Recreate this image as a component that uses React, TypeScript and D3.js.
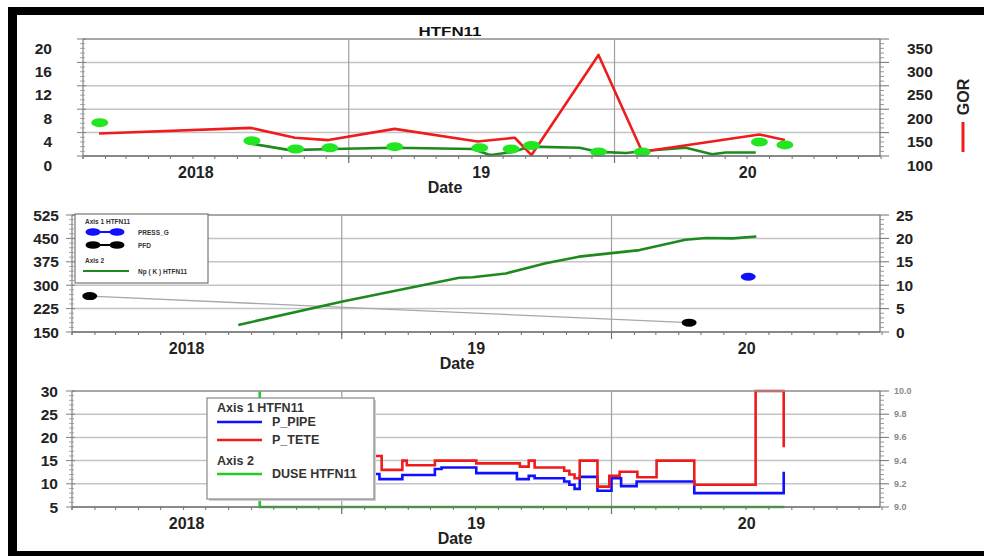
import React from "react";
import * as d3 from "d3";

const parse = d3.timeParse("%Y-%m-%d");
const START = new Date(2018, 0, 1);
const END = new Date(2021, 0, 1);

// ---------- Panel 1 data ----------
const gorDates = ["2018-01-23","2018-08-20","2018-10-19","2018-12-04","2019-03-05","2019-06-27","2019-08-17","2019-09-09","2019-12-10","2020-02-08","2020-07-18","2020-08-22"];
const gorValues = [148, 160, 139, 134, 158, 131, 139, 102, 316, 109, 146, 134];

const rateDates = ["2018-08-16","2018-10-12","2018-12-10","2019-03-05","2019-06-20","2019-07-13","2019-07-18","2019-08-14","2019-09-06","2019-11-14","2019-12-11","2020-01-17","2020-02-13","2020-04-08","2020-05-14","2020-06-02","2020-07-13"];
const rateValues = [2.2, 1.0, 1.2, 1.4, 1.2, 0.2, 0.2, 0.7, 1.6, 1.4, 0.7, 0.5, 0.9, 1.4, 0.3, 0.6, 0.6];

const testDates = ["2018-01-24","2018-08-21","2018-10-20","2018-12-06","2019-03-05","2019-06-30","2019-08-12","2019-09-09","2019-12-10","2020-02-08","2020-07-18","2020-08-22"];
const testValues = [5.7, 2.6, 1.2, 1.4, 1.6, 1.4, 1.2, 1.8, 0.7, 0.7, 2.4, 1.9];

// ---------- Panel 2 data ----------
const npDates = ["2018-08-14","2019-01-02","2019-06-09","2019-06-27","2019-08-11","2019-10-04","2019-11-18","2019-12-29","2020-02-08","2020-04-10","2020-05-08","2020-06-13","2020-07-15"];
const npValues = [1.5, 6.5, 11.6, 11.7, 12.5, 14.7, 16.1, 16.8, 17.5, 19.7, 20.1, 20.0, 20.4];

const pfdDates = ["2018-01-25", "2020-04-15"];
const pfdValues = [265, 180];

const pressDates = ["2020-07-04"];
const pressValues = [327];

// ---------- Panel 3 data ----------
const teteDates = ["2018-12-15","2019-02-24","2019-03-24","2019-03-30","2019-05-07","2019-07-02","2019-08-30","2019-09-11","2019-09-19","2019-10-29","2019-11-05","2019-11-12","2019-11-19","2019-12-13","2019-12-29","2020-01-12","2020-02-05","2020-03-02","2020-04-22","2020-07-14","2020-08-21"];
const teteValues = [16.0, 13.0, 15.0, 14.0, 15.0, 14.4, 13.7, 15.0, 13.5, 12.8, 12.0, 11.2, 15.0, 9.4, 11.7, 12.6, 11.4, 15.0, 9.8, 30.0, 17.9];

const pipeDates = ["2018-12-15","2019-02-21","2019-03-24","2019-05-07","2019-05-16","2019-07-02","2019-08-26","2019-09-11","2019-09-19","2019-10-29","2019-11-05","2019-11-12","2019-11-19","2019-12-13","2020-01-01","2020-01-14","2020-02-04","2020-04-22","2020-08-21"];
const pipeValues = [12.1, 11.0, 11.9, 13.2, 13.5, 12.3, 11.0, 11.7, 11.2, 10.5, 9.8, 8.9, 11.5, 8.5, 11.2, 9.5, 10.5, 8.0, 12.6];

const duseDates = ["2018-09-12", "2018-09-12", "2020-08-22"];
const duseValues = [10.0, 9.0, 9.0];

// ---------- axis ticks ----------
const p1LeftTicks = [0, 4, 8, 12, 16, 20];
const p1RightTicks = [100, 150, 200, 250, 300, 350];
const p2LeftTicks = [150, 225, 300, 375, 450, 525];
const p2RightTicks = [0, 5, 10, 15, 20, 25];
const p3LeftTicks = [5, 10, 15, 20, 25, 30];
const p3RightTicks = [9.0, 9.2, 9.4, 9.6, 9.8, 10.0];
const yearLabels = [
  { text: "2018", date: "2018-06-05" },
  { text: "19", date: "2019-07-02" },
  { text: "20", date: "2020-07-02" },
];

type Pt = { d: Date; v: number };
const series = (ds: string[], vs: number[]): Pt[] => ds.map((s, i) => ({ d: parse(s) as Date, v: vs[i] }));

const FONT = "'Liberation Sans', Arial, sans-serif";

interface Cfg {
  x0: number; x1: number; right: number; yTop: number; yBot: number;
  leftTicks: number[]; rightTicks: number[];
  leftFmt: (v: number) => string; rightFmt: (v: number) => string;
  labelDy: number; leftLabelX: number; rightLabelX: number;
  rightFont: number; rightColor: string; rightWeight: string;
  dateX: number;
}

function makeScales(c: Cfg) {
  const x = d3.scaleTime().domain([START, END]).range([c.x0, c.x1]);
  const yl = d3.scaleLinear().domain(d3.extent(c.leftTicks) as [number, number]).range([c.yBot, c.yTop]);
  const yr = d3.scaleLinear().domain(d3.extent(c.rightTicks) as [number, number]).range([c.yBot, c.yTop]);
  return { x, yl, yr };
}

function Grid({ c }: { c: Cfg }) {
  const { x, yl } = makeScales(c);
  const years = d3.timeYear.range(d3.timeDay.offset(START, 1), END);
  return (
    <g>
      {c.leftTicks.map((t) => (
        <line key={"h" + t} x1={c.x0} x2={c.right} y1={yl(t)} y2={yl(t)} stroke="#c4c4c4" strokeWidth={1.5} />
      ))}
      {years.map((d, i) => (
        <line key={"v" + i} x1={x(d)} x2={x(d)} y1={c.yTop} y2={c.yBot} stroke="#a0a0a0" strokeWidth={1.2} />
      ))}
    </g>
  );
}

function Axes({ c }: { c: Cfg }) {
  const { x, yl, yr } = makeScales(c);
  const years = d3.timeYear.range(d3.timeDay.offset(START, 1), END);
  const months = d3.timeMonth.range(START, d3.timeDay.offset(END, 1));
  const minorL: number[] = [];
  const lt = c.leftTicks;
  for (let i = 0; i < lt.length - 1; i++) for (let k = 1; k < 5; k++) minorL.push(lt[i] + ((lt[i + 1] - lt[i]) * k) / 5);
  const minorR: number[] = [];
  const rt = c.rightTicks;
  for (let i = 0; i < rt.length - 1; i++) for (let k = 1; k < 5; k++) minorR.push(rt[i] + ((rt[i + 1] - rt[i]) * k) / 5);
  return (
    <g>
      <line x1={c.x0} x2={c.right} y1={c.yTop} y2={c.yTop} stroke="#9a9a9a" strokeWidth={1.5} />
      <line x1={c.x0} x2={c.right} y1={c.yBot} y2={c.yBot} stroke="#707070" strokeWidth={1.5} />
      <line x1={c.x0} x2={c.x0} y1={c.yTop} y2={c.yBot + 3} stroke="#808080" strokeWidth={1.2} />
      <line x1={c.right} x2={c.right} y1={c.yTop} y2={c.yBot} stroke="#707070" strokeWidth={1.2} />
      {months.map((d, i) => (
        <line key={"m" + i} x1={x(d)} x2={x(d)} y1={c.yBot} y2={c.yBot + 3} stroke="#707070" strokeWidth={1} />
      ))}
      {years.map((d, i) => (
        <line key={"y" + i} x1={x(d)} x2={x(d)} y1={c.yBot} y2={c.yBot + 7} stroke="#707070" strokeWidth={1.2} />
      ))}
      {lt.map((t) => (
        <line key={"lt" + t} x1={c.x0 - 6} x2={c.x0 + 3} y1={yl(t)} y2={yl(t)} stroke="#808080" strokeWidth={1} />
      ))}
      {minorL.map((t, i) => (
        <line key={"lm" + i} x1={c.x0 - 3} x2={c.x0 + 2} y1={yl(t)} y2={yl(t)} stroke="#909090" strokeWidth={0.8} />
      ))}
      {rt.map((t) => (
        <line key={"rt" + t} x1={c.right} x2={c.right + 9} y1={yr(t)} y2={yr(t)} stroke="#707070" strokeWidth={1} />
      ))}
      {minorR.map((t, i) => (
        <line key={"rm" + i} x1={c.right} x2={c.right + 4} y1={yr(t)} y2={yr(t)} stroke="#808080" strokeWidth={0.8} />
      ))}
      {lt.map((t) => (
        <text key={"ll" + t} x={c.leftLabelX} y={yl(t) + c.labelDy} textAnchor="end" dominantBaseline="central"
          fontFamily={FONT} fontWeight="bold" fontSize={15.5} fill="#222">{c.leftFmt(t)}</text>
      ))}
      {rt.map((t) => (
        <text key={"rl" + t} x={c.rightLabelX} y={yr(t) + c.labelDy} textAnchor="start" dominantBaseline="central"
          fontFamily={FONT} fontWeight={c.rightWeight} fontSize={c.rightFont} fill={c.rightColor}>{c.rightFmt(t)}</text>
      ))}
      {yearLabels.map((l) => (
        <text key={l.text} x={x(parse(l.date) as Date)} y={c.yBot + 16} textAnchor="middle" dominantBaseline="central"
          fontFamily={FONT} fontWeight="bold" fontSize={16} fill="#222">{l.text}</text>
      ))}
      <text x={c.dateX} y={c.yBot + 31} textAnchor="middle" dominantBaseline="central"
        fontFamily={FONT} fontWeight="bold" fontSize={16} fill="#222">Date</text>
    </g>
  );
}

const fmt0 = (v: number) => String(v);
const fmt1 = (v: number) => v.toFixed(1);

const cfg1: Cfg = { x0: 83, x1: 881, right: 880, yTop: 39, yBot: 156, leftTicks: p1LeftTicks, rightTicks: p1RightTicks,
  leftFmt: fmt0, rightFmt: fmt0, labelDy: 9, leftLabelX: 52, rightLabelX: 907, rightFont: 15.5, rightColor: "#222", rightWeight: "bold", dateX: 445 };
const cfg2: Cfg = { x0: 72, x1: 882, right: 880, yTop: 215, yBot: 332, leftTicks: p2LeftTicks, rightTicks: p2RightTicks,
  leftFmt: fmt0, rightFmt: fmt0, labelDy: 0, leftLabelX: 59, rightLabelX: 896, rightFont: 15.5, rightColor: "#222", rightWeight: "bold", dateX: 457 };
const cfg3: Cfg = { x0: 72, x1: 882, right: 880, yTop: 391, yBot: 507, leftTicks: p3LeftTicks, rightTicks: p3RightTicks,
  leftFmt: fmt0, rightFmt: fmt1, labelDy: 0, leftLabelX: 58, rightLabelX: 894, rightFont: 9, rightColor: "#8a8a8a", rightWeight: "bold", dateX: 455 };

function Panel1() {
  const c = cfg1;
  const { x, yl, yr } = makeScales(c);
  const gor = series(gorDates, gorValues);
  const rate = series(rateDates, rateValues);
  const test = series(testDates, testValues);
  const lineR = d3.line<Pt>().x((p) => x(p.d)).y((p) => yr(p.v));
  const lineL = d3.line<Pt>().x((p) => x(p.d)).y((p) => yl(p.v));
  return (
    <g>
      <Grid c={c} />
      <path d={lineL(rate) || ""} fill="none" stroke="#1e8a1e" strokeWidth={2.6} strokeLinejoin="round" />
      <path d={lineR(gor) || ""} fill="none" stroke="#ee1c1c" strokeWidth={2.6} strokeLinejoin="round" />
      {test.map((p, i) => (
        <ellipse key={i} cx={x(p.d)} cy={yl(p.v)} rx={8.5} ry={4.5} fill="#22e622" />
      ))}
      <Axes c={c} />
      <text x={450} y={31} textAnchor="middle" dominantBaseline="central" fontFamily={FONT} fontWeight="bold"
        fontSize={13} fill="#111" textLength={63} lengthAdjust="spacingAndGlyphs">HTFN11</text>
      <text transform="translate(963,97) rotate(-90)" textAnchor="middle" dominantBaseline="central" fontFamily={FONT}
        fontWeight="bold" fontSize={16} fill="#222">GOR</text>
      <line x1={963} x2={963} y1={122} y2={152} stroke="#ee1c1c" strokeWidth={3} />
    </g>
  );
}

function Panel2() {
  const c = cfg2;
  const { x, yl, yr } = makeScales(c);
  const np = series(npDates, npValues);
  const pfd = series(pfdDates, pfdValues);
  const press = series(pressDates, pressValues);
  const lineR = d3.line<Pt>().x((p) => x(p.d)).y((p) => yr(p.v));
  const lineL = d3.line<Pt>().x((p) => x(p.d)).y((p) => yl(p.v));
  const lf = { fontFamily: FONT, fontWeight: "bold" as const, fontSize: 6.5, fill: "#333" };
  return (
    <g>
      <Grid c={c} />
      <path d={lineL(pfd) || ""} fill="none" stroke="#a8a8a8" strokeWidth={1.3} />
      <path d={lineR(np) || ""} fill="none" stroke="#1e8a1e" strokeWidth={2.6} strokeLinejoin="round" />
      {pfd.map((p, i) => (
        <ellipse key={"k" + i} cx={x(p.d)} cy={yl(p.v)} rx={7.5} ry={4} fill="#000" />
      ))}
      {press.map((p, i) => (
        <ellipse key={"b" + i} cx={x(p.d)} cy={yl(p.v)} rx={7.5} ry={4} fill="#1010ff" />
      ))}
      <Axes c={c} />
      <rect x={75} y={214} width={133} height={69} fill="#fff" stroke="#777" strokeWidth={1.2} />
      <text x={85} y={221} dominantBaseline="central" {...lf}>Axis 1  HTFN11</text>
      <line x1={93} x2={117} y1={232} y2={232} stroke="#1010ff" strokeWidth={2} />
      <ellipse cx={93} cy={232} rx={7.5} ry={3.8} fill="#1010ff" />
      <ellipse cx={117} cy={232} rx={7.5} ry={3.8} fill="#1010ff" />
      <text x={138} y={232} dominantBaseline="central" {...lf}>PRESS_G</text>
      <line x1={93} x2={117} y1={245} y2={245} stroke="#000" strokeWidth={2} />
      <ellipse cx={93} cy={245} rx={7.5} ry={3.8} fill="#000" />
      <ellipse cx={117} cy={245} rx={7.5} ry={3.8} fill="#000" />
      <text x={138} y={245} dominantBaseline="central" {...lf}>PFD</text>
      <text x={85} y={260} dominantBaseline="central" {...lf}>Axis 2</text>
      <line x1={83} x2={129} y1={271} y2={271} stroke="#1e8a1e" strokeWidth={2.2} />
      <text x={138} y={271} dominantBaseline="central" {...lf}>Np ( K ) HTFN11</text>
    </g>
  );
}

function Panel3() {
  const c = cfg3;
  const { x, yl, yr } = makeScales(c);
  const tete = series(teteDates, teteValues);
  const pipe = series(pipeDates, pipeValues);
  const duse = series(duseDates, duseValues);
  const stepL = d3.line<Pt>().x((p) => x(p.d)).y((p) => yl(p.v)).curve(d3.curveStepAfter);
  const stepR = d3.line<Pt>().x((p) => x(p.d)).y((p) => yr(p.v)).curve(d3.curveStepAfter);
  const lf = { fontFamily: FONT, fontWeight: "bold" as const, fontSize: 12.5, fill: "#333" };
  return (
    <g>
      <Grid c={c} />
      <path d={stepR(duse) || ""} fill="none" stroke="#22cc22" strokeWidth={2.6} />
      <path d={stepL(pipe) || ""} fill="none" stroke="#1010ff" strokeWidth={2.6} />
      <path d={stepL(tete) || ""} fill="none" stroke="#ee1c1c" strokeWidth={2.6} />
      <Axes c={c} />
      <rect x={209} y={400} width={167} height={101} fill="#d0d0d0" />
      <rect x={207} y={398} width={167} height={101} fill="#fff" stroke="#888" strokeWidth={1.2} />
      <text x={217} y={408} dominantBaseline="central" {...lf}>Axis 1  HTFN11</text>
      <line x1={217} x2={262} y1={422} y2={422} stroke="#1010ff" strokeWidth={2.6} />
      <text x={272} y={422} dominantBaseline="central" {...lf}>P_PIPE</text>
      <line x1={217} x2={262} y1={440} y2={440} stroke="#ee1c1c" strokeWidth={2.6} />
      <text x={272} y={440} dominantBaseline="central" {...lf}>P_TETE</text>
      <text x={217} y={461} dominantBaseline="central" {...lf}>Axis 2</text>
      <line x1={217} x2={262} y1={474} y2={474} stroke="#22cc22" strokeWidth={2.6} />
      <text x={272} y={474} dominantBaseline="central" {...lf}>DUSE HTFN11</text>
    </g>
  );
}

export default function App() {
  return (
    <svg width={984} height={556} style={{ position: "absolute", left: 0, top: 0, background: "#fff" }}>
      <rect x={0} y={0} width={984} height={556} fill="#fff" />
      <Panel1 />
      <Panel2 />
      <Panel3 />
      <rect x={8} y={7} width={976} height={8} fill="#000" />
      <rect x={8} y={7} width={9} height={549} fill="#000" />
      <rect x={8} y={551} width={976} height={5} fill="#000" />
    </svg>
  );
}
